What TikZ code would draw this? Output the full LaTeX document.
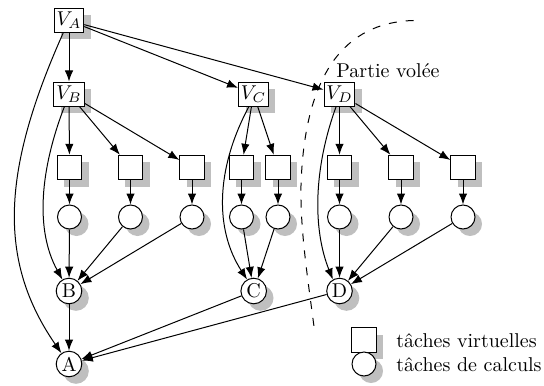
\documentclass[tikz,border=0pt]{standalone}
\usetikzlibrary{arrows.meta,shadows}
\tikzset{
  x=0.5pt,y=-0.5pt,
  shad/.style={drop shadow={shadow xshift=3.5pt,shadow yshift=-3.5pt,fill=black!25,opacity=1}},
  vbox/.style={draw,fill=white,shad,line width=0.5pt,inner xsep=1.2pt,inner ysep=0pt,minimum height=12pt,minimum width=14pt},
  sq/.style={draw,fill=white,shad,line width=0.5pt,inner sep=0pt,minimum size=12.2pt},
  ci/.style={draw,circle,fill=white,shad,line width=0.5pt,inner sep=0pt,minimum size=12pt},
  lett/.style={ci,minimum size=12.8pt},
  arr/.style={line width=0.5pt,-{Latex[length=5.5pt,width=4.2pt]}},
  txt/.style={anchor=base west,inner sep=0pt}
}
\begin{document}
\begin{tikzpicture}
\useasboundingbox (0,0) rectangle (544,385);
% nodes
\node[vbox] (VA) at (69,20.5) {$V_A$};
\node[vbox] (VB) at (69,94) {$V_B$};
\node[vbox] (VC) at (253.5,94) {$V_C$};
\node[vbox] (VD) at (339.5,94) {$V_D$};
\foreach \n/\x in {b1/69.5,b2/130.5,b3/192,c1/241.5,c2/278,d1/339.5,d2/401,d3/463}{
  \node[sq] (s\n) at (\x,167.5) {};
  \node[ci] (o\n) at (\x,217) {};
}
\node[lett] (B) at (69,291) {B};
\node[lett] (C) at (253.7,291) {C};
\node[lett] (D) at (339.5,291) {D};
\node[lett] (A) at (69,364) {A};
\node[sq] (legS) at (364,340) {};
\node[ci] (legC) at (364,364) {};
\node[txt] (t1) at (396,347) {tâches virtuelles};
\node[txt] (t2) at (396,371) {tâches de calculs};
\node[txt] (t3) at (336,77) {Partie volée};
% dashed boundary
\draw[line width=0.5pt,dash pattern=on 4pt off 4.5pt]
  (413.7,20.5) .. controls (355,22) and (305,60) .. (301,185)
  .. controls (300,230) and (308,280) .. (314.7,332);
% edges
\draw[arr] (VA) -- (VB);
\draw[arr] (VA) -- (VC);
\draw[arr] (VA) -- (VD);
\draw[arr] (VA.-115) .. controls (2,170) and (-3,260) .. (A.125);
\foreach \v/\a/\b/\c in {VB/b1/b2/b3,VD/d1/d2/d3}{
  \draw[arr] (\v) -- (s\a);
  \draw[arr] (\v) -- (s\b);
  \draw[arr] (\v) -- (s\c);
}
\draw[arr] (VC) -- (sc1);
\draw[arr] (VC) -- (sc2);
\foreach \n in {b1,b2,b3,c1,c2,d1,d2,d3}{\draw[arr] (s\n) -- (o\n);}
\foreach \n in {b1,b2,b3}{\draw[arr] (o\n) -- (B);}
\foreach \n in {c1,c2}{\draw[arr] (o\n) -- (C);}
\foreach \n in {d1,d2,d3}{\draw[arr] (o\n) -- (D);}
\draw[arr] (VB.-110) .. controls (40,170) and (35,230) .. (B.120);
\draw[arr] (VC.-110) .. controls (215,170) and (215,230) .. (C.120);
\draw[arr] (VD.-105) .. controls (313,170) and (313,230) .. (D.120);
\draw[arr] (B) -- (A);
\draw[arr] (C) -- (A);
\draw[arr] (D) -- (A);
\end{tikzpicture}
\end{document}
